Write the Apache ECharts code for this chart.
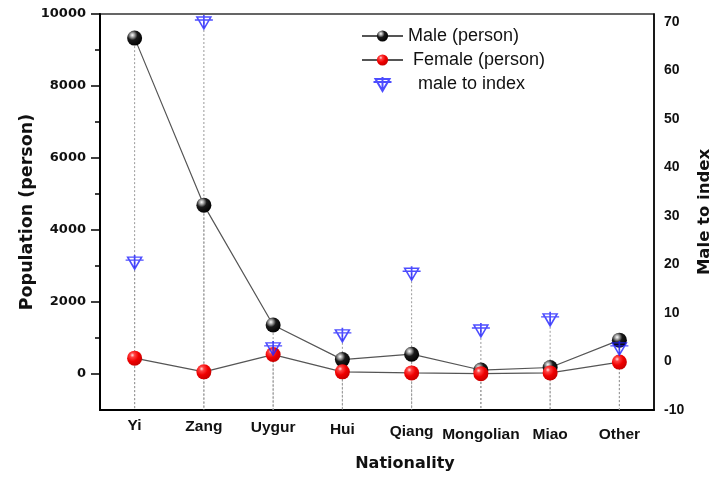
<!DOCTYPE html>
<html>
<head>
<meta charset="utf-8">
<script src="https://cdn.jsdelivr.net/npm/echarts@6/dist/echarts.min.js"></script>
<style>html,body{margin:0;padding:0;background:#fff;}#c{width:712px;height:479px;}</style>
</head>
<body>
<div id="c"></div>
<script>
const categories = ['Yi', 'Zang', 'Uygur', 'Hui', 'Qiang', 'Mongolian', 'Miao', 'Other'];
const maleValues = [9330, 4690, 1360, 400, 550, 110, 180, 940];
const femaleValues = [440, 60, 540, 60, 30, 10, 30, 330];
const indexValues = [20.5, 70, 2.8, 5.5, 18.2, 6.5, 8.8, 2.8];
const leftMajorTicks = [0, 2000, 4000, 6000, 8000, 10000];
const leftMinorTicks = [1000, 3000, 5000, 7000, 9000];

const labelShift = [0, 1, 2, 4, 6, 9, 9, 9];

const boldA = 'Arial, "Liberation Sans", sans-serif';
const boldD = '"DejaVu Sans", sans-serif';

const maleBall = {type:'radial', x:0.35, y:0.3, r:0.75, colorStops:[
  {offset:0, color:'#ffffff'}, {offset:0.18, color:'#aaaaaa'}, {offset:0.45, color:'#1a1a1a'}, {offset:1, color:'#000000'}]};
const femaleBall = {type:'radial', x:0.35, y:0.3, r:0.75, colorStops:[
  {offset:0, color:'#ffe0e0'}, {offset:0.2, color:'#ff4040'}, {offset:0.55, color:'#f00000'}, {offset:1, color:'#c40000'}]};

const dropLine = (params, api) => {
  const p = api.coord([api.value(0), api.value(1)]);
  const cs = params.coordSys;
  return {type:'line', shape:{x1:p[0], y1:p[1], x2:p[0], y2:cs.y + cs.height},
    style:{stroke:'#9a9a9a', lineWidth:1, lineDash:[2,2]}};
};

const chart = echarts.init(document.getElementById('c'), null, {renderer:'canvas'});
chart.setOption({
  animation: false,
  backgroundColor: '#fff',
  grid: {left:100, right:58, top:14, bottom:69, outerBoundsMode:'none', containLabel:false,
    show:true, borderColor:'#333', borderWidth:1.5, backgroundColor:'transparent'},
  legend: {
    orient:'vertical', left:361, top:27, padding:0, itemWidth:41, itemHeight:14, itemGap:6,
    textStyle:{fontFamily:'Arial, "Liberation Sans", sans-serif', fontSize:18, color:'#111'},
    data:[
      {name:'Male (person)'},
      {name:'Female (person)', textStyle:{padding:[0,0,0,5]}},
      {name:'male to index', textStyle:{padding:[0,0,0,10]}}
    ]
  },
  xAxis: {
    type:'category',
    data: categories.map((c, i) => ({value:c, textStyle:{padding:[labelShift[i],0,0,0]}})),
    axisLine:{onZero:false, lineStyle:{color:'#000', width:2}},
    axisTick:{show:false},
    axisLabel:{fontFamily:boldA, fontWeight:'bold', fontSize:15.5, color:'#111', margin:8, interval:0},
    name:'Nationality', nameLocation:'middle', nameGap:46, nameMoveOverlap:false,
    nameTextStyle:{fontFamily:boldD, fontWeight:'bold', fontSize:16, color:'#111', padding:[0,0,0,56]},
    splitLine:{show:false}
  },
  yAxis: [
    {
      type:'value', position:'left', min:-1000, max:10000,
      axisLine:{show:true, onZero:false, lineStyle:{color:'#000', width:2}},
      axisTick:{show:true, inside:false, length:9, customValues:leftMajorTicks, lineStyle:{color:'#000', width:1.5}},
      axisLabel:{customValues:leftMajorTicks, fontFamily:boldD, fontWeight:'bold', fontSize:13, color:'#111', margin:14,
        formatter: v => String(v)},
      splitLine:{show:false},
      name:'Population (person)', nameLocation:'middle', nameGap:64, nameRotate:90, nameMoveOverlap:false,
      nameTextStyle:{fontFamily:boldD, fontWeight:'bold', fontSize:17.5, color:'#111'}
    },
    {
      type:'value', position:'right', min:-10, max:71.65, interval:10,
      axisLine:{show:true, onZero:false, lineStyle:{color:'#000', width:1.5}},
      axisTick:{show:false},
      axisLabel:{fontFamily:boldA, fontWeight:'bold', fontSize:14, color:'#111', margin:10,
        formatter: v => (Math.abs(v % 10) < 1e-6 ? String(Math.round(v)) : '')},
      splitLine:{show:false},
      name:'Male to index', nameLocation:'middle', nameGap:42, nameRotate:90, nameMoveOverlap:false,
      nameTextStyle:{fontFamily:boldD, fontWeight:'bold', fontSize:16.5, color:'#111'}
    },
    {
      type:'value', position:'left', min:-1000, max:10000,
      axisLine:{show:false},
      axisTick:{show:true, inside:false, length:5, customValues:leftMinorTicks, lineStyle:{color:'#000', width:1.5}},
      axisLabel:{show:false},
      splitLine:{show:false}
    }
  ],
  series: [
    {type:'custom', name:'drop1', yAxisIndex:0, z:1, silent:true, renderItem:dropLine,
      data: maleValues.map((v, i) => [i, v])},
    {type:'custom', name:'drop2', yAxisIndex:1, z:1, silent:true, renderItem:dropLine,
      data: indexValues.map((v, i) => [i, v])},
    {type:'line', name:'Male (person)', yAxisIndex:0, z:3, data:maleValues,
      symbol:'circle', symbolSize:15,
      lineStyle:{color:'#555', width:1.2}, itemStyle:{color:maleBall, borderWidth:0}},
    {type:'line', name:'Female (person)', yAxisIndex:0, z:3, data:femaleValues,
      symbol:'circle', symbolSize:15,
      lineStyle:{color:'#555', width:1.2}, itemStyle:{color:femaleBall, borderWidth:0}},
    {type:'scatter', name:'male to index', yAxisIndex:1, z:5, data:indexValues,
      symbol:'path://M2,2L16,2L9,14Z M0,5L18,5 M9,0L9,14', symbolSize:[18,14],
      itemStyle:{color:'rgba(0,0,0,0)', borderColor:'#2020ff', borderWidth:1.5}}
  ]
});
</script>
</body>
</html>
